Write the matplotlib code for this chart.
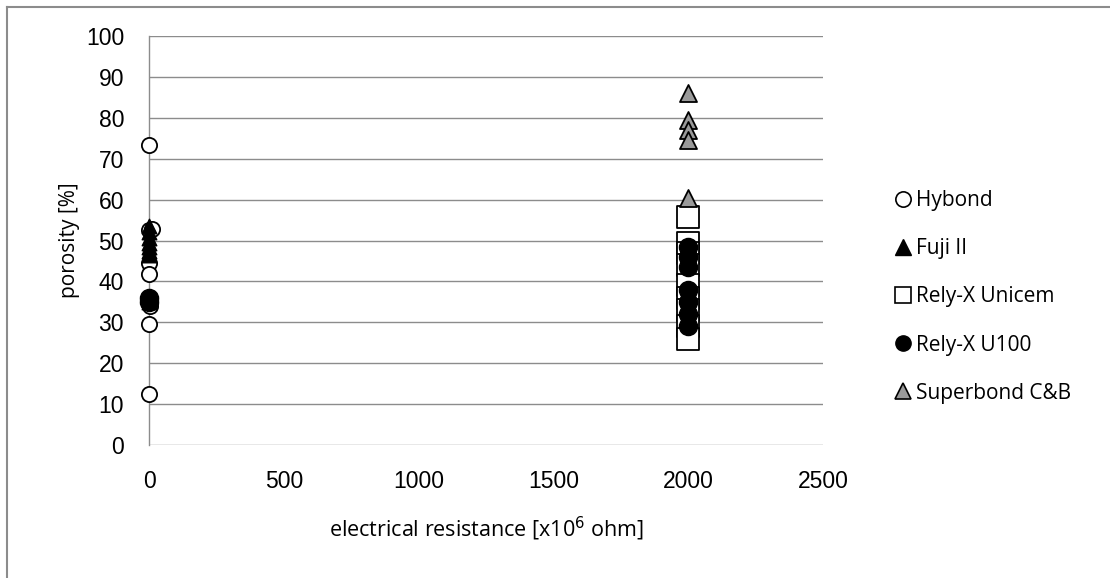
import matplotlib
matplotlib.use("Agg")
import matplotlib.pyplot as plt
from matplotlib.lines import Line2D

# Data
hybond_x = [0, 0, 10, 0, 0, 0, 5, 0, 0]
hybond_y = [73.3, 52.5, 52.8, 44.5, 41.8, 35.8, 34.0, 29.5, 12.5]

fuji_x = [0, 0, 0, 0, 0, 0, 0, 0, 0]
fuji_y = [53.5, 52.0, 50.5, 49.5, 48.5, 47.5, 46.5, 36.0, 35.0]

unicem_x = [2000] * 9
unicem_y = [55.8, 49.5, 47.0, 44.0, 39.0, 36.0, 33.0, 29.0, 26.0]

u100_x = [0, 0, 2000, 2000, 2000, 2000, 2000, 2000, 2000]
u100_y = [36.0, 35.0, 48.5, 46.0, 43.5, 38.0, 35.0, 32.0, 29.0]

superbond_x = [2000] * 5
superbond_y = [86.0, 79.5, 77.0, 74.5, 60.5]

labels = ["Hybond", "Fuji II", "Rely-X Unicem", "Rely-X U100", "Superbond C&B"]

fig = plt.figure(figsize=(11.1, 5.78), dpi=100)
W, H = 1110, 578
ax = fig.add_axes([149 / W, 1 - 445 / H, (823 - 149) / W, (445 - 36) / H])

ax.scatter(hybond_x, hybond_y, marker='o', s=120, facecolors='white', edgecolors='black', linewidths=1.3, zorder=3, clip_on=False)
ax.scatter(fuji_x, fuji_y, marker='^', s=110, facecolors='black', edgecolors='black', linewidths=1.0, zorder=4, clip_on=False)
ax.scatter(unicem_x, unicem_y, marker='s', s=230, facecolors='white', edgecolors='black', linewidths=1.3, zorder=3, clip_on=False)
ax.scatter(u100_x, u100_y, marker='o', s=170, facecolors='black', edgecolors='black', linewidths=1.0, zorder=4, clip_on=False)
ax.scatter(superbond_x, superbond_y, marker='^', s=150, facecolors='#9a9a9a', edgecolors='black', linewidths=1.3, zorder=5, clip_on=False)

ax.set_xlim(0, 2500)
ax.set_ylim(0, 100)
ax.set_xticks(range(0, 2501, 500))
ax.set_yticks(range(0, 101, 10))
ax.grid(axis='y', color='#8c8c8c', linewidth=1.0)
ax.set_axisbelow(True)
for sp in ['top', 'right', 'bottom']:
    ax.spines[sp].set_visible(False)
ax.spines['left'].set_color('#8c8c8c')
ax.spines['left'].set_linewidth(1.0)
ax.tick_params(axis='both', length=0, labelsize=16.5)
ax.tick_params(axis='y', pad=18)
ax.tick_params(axis='x', pad=18)
for t in ax.get_xticklabels() + ax.get_yticklabels():
    t.set_fontfamily('Liberation Sans')

ax.set_ylabel("porosity [%]", fontsize=15, fontfamily='Open Sans', labelpad=4)
ax.set_xlabel("electrical resistance [x10$^6$ ohm]", fontsize=15.5, fontfamily='Open Sans', labelpad=16)

handles = [
    Line2D([], [], linestyle='none', marker='o', markersize=11, markerfacecolor='white', markeredgecolor='black', markeredgewidth=1.2),
    Line2D([], [], linestyle='none', marker='^', markersize=11, markerfacecolor='black', markeredgecolor='black'),
    Line2D([], [], linestyle='none', marker='s', markersize=11, markerfacecolor='white', markeredgecolor='black', markeredgewidth=1.2),
    Line2D([], [], linestyle='none', marker='o', markersize=11, markerfacecolor='black', markeredgecolor='black'),
    Line2D([], [], linestyle='none', marker='^', markersize=11, markerfacecolor='#9a9a9a', markeredgecolor='black', markeredgewidth=1.2),
]
leg = fig.legend(handles, labels, loc='upper left', bbox_to_anchor=(887 / W, 1 - 182 / H),
                 frameon=False, prop={'family': 'Open Sans', 'size': 15},
                 handlelength=0.7, handletextpad=0.3, labelspacing=1.3, borderaxespad=0)

# chart-area border (top and left visible)
fig.add_artist(Line2D([7 / W, 1.0], [1 - 7 / H, 1 - 7 / H], transform=fig.transFigure, color='#8c8c8c', linewidth=1.5))
fig.add_artist(Line2D([7 / W, 7 / W], [0.0, 1 - 7 / H], transform=fig.transFigure, color='#8c8c8c', linewidth=1.5))

fig.savefig("out.png", dpi=100)
